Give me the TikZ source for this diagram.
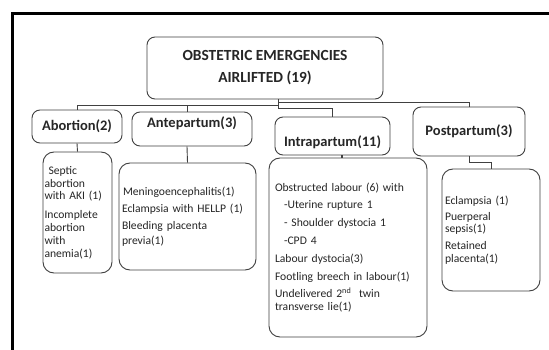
\documentclass[tikz,border=0pt]{standalone}
\usepackage{fontspec}
\setmainfont{Carlito}
\newlength\meas
\begin{document}
% font sizes fitted to the measured text widths of the reference
\settowidth\meas{\fontsize{10}{12}\selectfont Footling breech in labour(1)}%
\pgfmathsetmacro\mylsize{10*131/\meas}%
\settowidth\meas{\fontsize{10}{12}\selectfont\bfseries Intrapartum(11)}%
\pgfmathsetmacro\myhsize{10*97/\meas}%
\settowidth\meas{\fontsize{10}{12}\selectfont\bfseries OBSTETRIC EMERGENCIES}%
\pgfmathsetmacro\myrsize{10*165/\meas}%
\def\lfont{\fontsize{\mylsize}{12.8}\selectfont}%
\def\hfont{\bfseries\fontsize{\myhsize}{16}\selectfont}%
\def\rfont{\bfseries\fontsize{\myrsize}{22}\selectfont}%
\begin{tikzpicture}[x=1pt,y=-1pt,
  box/.style={draw=black!75,line width=0.9pt,rounded corners=8pt,inner sep=0pt,text=black!85},
  head/.style={box,align=center,font=\hfont},
  listbox/.style={box,rounded corners=11pt,align=left,font=\lfont},
  conn/.style={draw=black!75,line width=0.9pt}]
\useasboundingbox (0,0) rectangle (549,350);
\fill[white] (0,0) rectangle (549,350);
% frame
\draw[line width=3pt] (12,350) -- (12,14) -- (549,14);
% root
\node[head,font=\rfont,minimum width=236pt,minimum height=62pt] (root) at (265,68) {OBSTETRIC EMERGENCIES\\AIRLIFTED (19)};
% category boxes
\node[head,minimum width=90pt,minimum height=33pt] (abort) at (77,126.5) {Abortion(2)};
\node[head,minimum width=120pt,minimum height=34pt,text height=10pt,text depth=12pt] (ante) at (192,129) {Antepartum(3)};
\node[head,minimum width=115pt,minimum height=38pt,text height=26pt,text depth=4pt] (intra) at (332.5,136) {Intrapartum(11)};
\node[head,minimum width=112pt,minimum height=49pt] (post) at (469,131.5) {Postpartum(3)};
% list boxes
\node[listbox,minimum width=69pt,minimum height=121pt,text width=66pt,inner xsep=1.5pt] (abc) at (77.5,212.5)
 {\lfont\hspace*{4pt}Septic\\abortion\\with AKI (1)\\[6pt]Incomplete\\abortion\\with\\anemia(1)};
\node[listbox,minimum width=137pt,minimum height=107pt,text width=131pt,inner xsep=3pt] (antc) at (187.5,216.5)
 {\lfont\hspace*{1pt}Meningoencephalitis(1)\\[4pt]Eclampsia with HELLP (1)\\[4pt]Bleeding placenta\\[2pt]previa(1)};
\node[listbox,minimum width=158pt,minimum height=179pt,text width=146pt,inner xsep=6pt] (intc) at (348,247.5)
 {\lfont Obstructed labour (6) with\\[5pt]\hspace*{9pt}-Uterine rupture 1\\[5pt]\hspace*{9pt}- Shoulder dystocia 1\\[5pt]\hspace*{9pt}-CPD 4\\[5pt]Labour dystocia(3)\\[5pt]Footling breech in labour(1)\\[5pt]Undelivered 2\textsuperscript{nd}\ \ twin\\transverse lie(1)};
\node[listbox,minimum width=98pt,minimum height=122pt,text width=92pt,inner xsep=3pt] (posc) at (491,230)
 {\lfont Eclampsia (1)\\[3pt]Puerperal\\sepsis(1)\\[4pt]Retained\\placenta(1)};
% connectors
\coordinate (bus) at (278,105);
\coordinate (bus2) at (278,102);
\coordinate (bus3) at (278,108);
\draw[conn] (root.south -| bus) -- (bus3);
\draw[conn] (bus) -| (abort.north);
\draw[conn] ([xshift=-5pt]ante.north) -- ([xshift=-5pt]ante.north |- bus);
\draw[conn] (bus2) -| (post.north);
\draw[conn] (bus3) -| (intra.north);
\draw[conn] (abort.south) -- (abc.north);
\draw[conn] ([xshift=-5pt]ante.south) -- (antc.north);
\draw[conn,line width=1.6pt] ([xshift=9.5pt]intra.south) -- ([xshift=9.5pt]intra.south |- intc.north);
\draw[conn] (post.south) -- ++(0,6) -| (posc.north);
\end{tikzpicture}
\end{document}
